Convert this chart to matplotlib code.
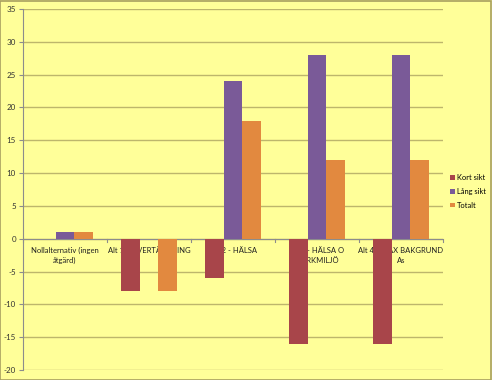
import matplotlib
matplotlib.use("Agg")
import matplotlib.pyplot as plt
from matplotlib.patches import Patch, Rectangle
import numpy as np

categories = ["Nollalternativ (ingen\nåtgärd)", "Alt 1 - ÖVERTÄCKNING", "Alt 2 - HÄLSA",
              "Alt 3 - HÄLSA O\nMARKMILJÖ", "Alt 4 - MAX BAKGRUND\nAs"]
series_names = ["Kort sikt", "Lång sikt", "Totalt"]
kort = [0, -8, -6, -16, -16]
lang = [1, 0, 24, 28, 28]
totalt = [1, -8, 18, 12, 12]
yticks = list(range(-20, 36, 5))

colors = ["#A8454A", "#7A5A98", "#E2893F"]
bg = "#FFFF99"
grid_c = "#BDB66C"
plt.rcParams["font.family"] = ["Lato", "DejaVu Sans"]

fig = plt.figure(figsize=(4.92, 3.80), dpi=100, facecolor=bg)
fig.patches.append(Rectangle((0.001, 0.001), 0.997, 0.996, transform=fig.transFigure,
                             fill=False, edgecolor="#A8A060", linewidth=1.2))
ax = fig.add_axes([23/492, 1-370/380, (443-23)/492, (370-9)/380])
ax.set_facecolor(bg)

x = np.arange(len(categories))
w = 2/9
for k, (vals, c) in enumerate(zip([kort, lang, totalt], colors)):
    ax.bar(x + (k-1)*w, vals, width=w, color=c, zorder=3, linewidth=0)

ax.set_xlim(-0.5, len(categories)-0.5)
ax.set_ylim(-20, 35)
ax.set_yticks(yticks)
ax.set_yticklabels([str(t) for t in yticks], fontsize=5.8, color="#333333")
ax.yaxis.grid(True, color=grid_c, linewidth=1.0, zorder=0)
ax.set_axisbelow(True)
ax.set_xticks([])
for s in ["top", "right", "bottom"]:
    ax.spines[s].set_visible(False)
ax.spines["left"].set_color("#8C8C8C")
ax.tick_params(axis="y", length=3, color="#8C8C8C", pad=2)
ax.axhline(0, color="#8C8C8C", linewidth=0.8, zorder=2)
for b in np.arange(-0.5, len(categories)):
    ax.plot([b, b], [0, -0.5], color="#8C8C8C", linewidth=0.8, zorder=2, clip_on=False)

for i, lab in enumerate(categories):
    ax.text(i, -1.3, lab, ha="center", va="top", fontsize=5.5, color="#222222",
            zorder=1, linespacing=1.45)

handles = [Patch(facecolor=c, label=n) for n, c in zip(series_names, colors)]
fig.legend(handles=handles, loc="upper left", bbox_to_anchor=(445/492, 1-169/380),
           frameon=False, fontsize=5.4, handlelength=0.6, handleheight=0.6,
           handletextpad=0.3, labelspacing=0.9, borderpad=0.2)

fig.savefig("out.png", dpi=100, facecolor=bg)
